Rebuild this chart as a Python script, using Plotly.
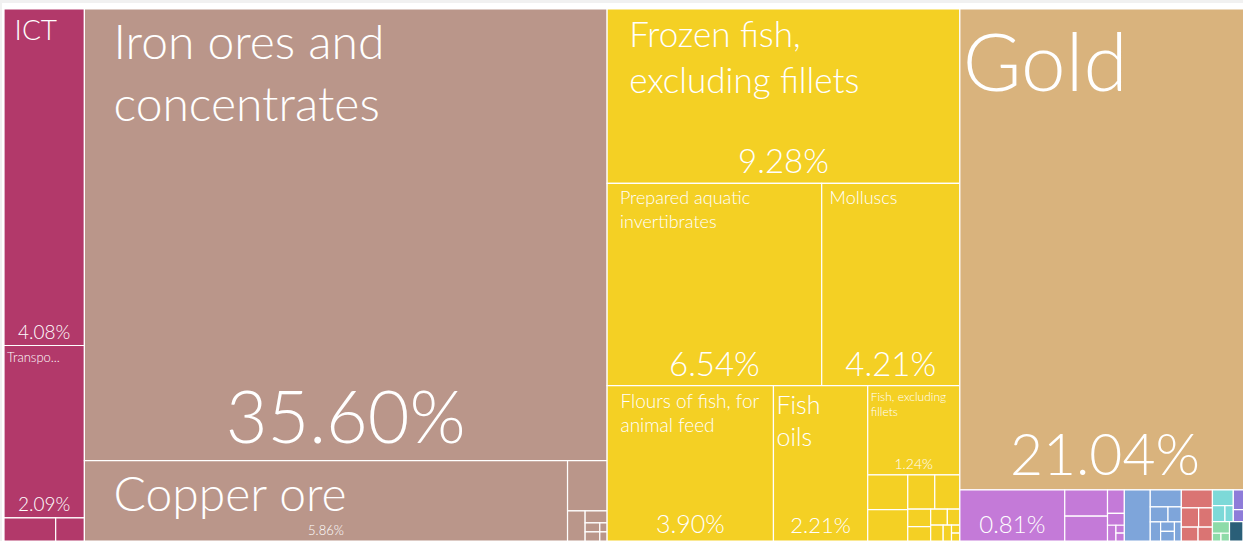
import plotly.graph_objects as go

# ---- data -------------------------------------------------------------
sections = [
    "Services", "Mineral Products", "Animal Products", "Precious Metals",
    "Chemical Products", "Machines", "Plastics and Rubbers", "Vegetable Products",
    "Textiles", "Foodstuffs", "Transportation",
]

products = [
    # Services
    "ICT", "Transport", "Travel", "Other business services",
    # Mineral products
    "Iron ores and concentrates", "Copper ore", "Crude petroleum", "Salt",
    "Gypsum", "Petroleum gas", "Refined petroleum", "Cement", "Sulphur",
    # Animal products
    "Frozen fish, excluding fillets", "Prepared aquatic invertibrates", "Molluscs",
    "Flours of fish, for animal feed", "Fish oils", "Fish, excluding fillets",
    "Crustaceans", "Fish fillets", "Dried fish", "Bovine hides", "Camel meat",
    "Edible offal", "Goat skins", "Milk", "Honey", "Bird eggs", "Sheep wool", "Animal hair",
    # Precious metals
    "Gold",
    # Chemical products
    "Insecticides", "Cosmetics", "Soaps", "Packaged medicaments", "Paints",
    "Glues", "Fertilizers", "Inks",
    # Machines
    "Engine parts", "Pumps", "Cranes", "Valves", "Electric motors", "Generators",
    "Broadcasting equipment", "Computers",
    # Plastics and rubbers
    "Rubber tires", "Plastic lids", "Plastic pipes", "Plastic sheets", "Rubber belts",
    # Vegetable products
    "Dates", "Gum arabic", "Melons",
    # Textiles
    "Used clothing", "Synthetic fabric", "Cotton",
    # Foodstuffs
    "Fish preparations", "Animal food", "Sugar",
    # Transportation
    "Ships", "Cars",
]

product_sections = (
    ["Services"] * 4
    + ["Mineral Products"] * 9
    + ["Animal Products"] * 18
    + ["Precious Metals"]
    + ["Chemical Products"] * 8
    + ["Machines"] * 8
    + ["Plastics and Rubbers"] * 5
    + ["Vegetable Products"] * 3
    + ["Textiles"] * 3
    + ["Foodstuffs"] * 3
    + ["Transportation"] * 2
)

# export share, percent
shares = [
    4.08, 2.09, 0.18, 0.10,
    35.60, 5.86, 0.30, 0.08, 0.04, 0.02, 0.02, 0.01, 0.01,
    9.28, 6.54, 4.21, 3.90, 2.21, 1.24,
    0.21, 0.19, 0.14, 0.13, 0.06, 0.05, 0.04, 0.03, 0.03, 0.02, 0.01, 0.01,
    21.04,
    0.81, 0.17, 0.16, 0.06, 0.03, 0.02, 0.01, 0.01,
    0.20, 0.08, 0.04, 0.03, 0.03, 0.02, 0.02, 0.02,
    0.085, 0.05, 0.04, 0.035, 0.03,
    0.05, 0.03, 0.02,
    0.05, 0.02, 0.01,
    0.03, 0.01, 0.01,
    0.04, 0.02,
]

# ---- styles -----------------------------------------------------------
section_colors = {
    "Services": "#B2396A",
    "Mineral Products": "#BA968A",
    "Animal Products": "#F4D024",
    "Precious Metals": "#D9B37D",
    "Chemical Products": "#C47AD8",
    "Machines": "#7EA5DA",
    "Plastics and Rubbers": "#DA7473",
    "Vegetable Products": "#7DD9D8",
    "Textiles": "#8E7CD9",
    "Foodstuffs": "#8DDBA8",
    "Transportation": "#2A5F78",
}

# product name shown in its tile: (lines, font size, left indent in spaces)
name_style = {
    "ICT": (["ICT"], 28, 1),
    "Transport": (["Transpo..."], 13, 0),
    "Iron ores and concentrates": (["Iron ores and", "concentrates"], 48, 2),
    "Copper ore": (["Copper ore"], 48, 2),
    "Frozen fish, excluding fillets": (["Frozen fish,", "excluding fillets"], 35, 2),
    "Prepared aquatic invertibrates": (["Prepared aquatic", "invertibrates"], 18, 2),
    "Molluscs": (["Molluscs"], 18, 1),
    "Flours of fish, for animal feed": (["Flours of fish, for", "animal feed"], 19, 2),
    "Fish oils": (["Fish", "oils"], 25, 0),
    "Fish, excluding fillets": (["Fish, excluding", "fillets"], 12, 0),
    "Gold": (["Gold"], 80, 0),
}

# share label font size
pct_style = {
    "ICT": 19, "Transport": 19,
    "Iron ores and concentrates": 72, "Copper ore": 13,
    "Frozen fish, excluding fillets": 33, "Prepared aquatic invertibrates": 33,
    "Molluscs": 33, "Flours of fish, for animal feed": 25, "Fish oils": 22,
    "Fish, excluding fillets": 14, "Gold": 57, "Insecticides": 24,
}

FONT = "Lato"
NBSP = "\u00a0"


def name_label(product):
    if product not in name_style:
        return ""
    lines, _, indent = name_style[product]
    return "<br>".join(NBSP * indent + line for line in lines)


# ---- hierarchy --------------------------------------------------------
ids = ["root"] + [f"s/{s}" for s in sections] + [f"p/{p}" for p in products]
labels = ["Exports"] + sections + products
parents = [""] + ["root"] * len(sections) + [f"s/{s}" for s in product_sections]
values = [0] * (1 + len(sections)) + shares
colors = ["#ffffff"] + [section_colors[s] for s in sections] + \
         [section_colors[s] for s in product_sections]

n_branch = 1 + len(sections)
name_text = [""] * n_branch + [name_label(p) for p in products]
name_size = [10] * n_branch + [name_style[p][1] if p in name_style else 10 for p in products]
pct_tmpl = [""] * n_branch + [("%{value:.2f}%" if p in pct_style else "") for p in products]
pct_size = [10] * n_branch + [pct_style.get(p, 10) for p in products]

common = dict(
    ids=ids, labels=labels, parents=parents, values=values,
    branchvalues="remainder", sort=False,
    tiling=dict(packing="squarify", squarifyratio=1, pad=0),
    pathbar=dict(visible=False),
    hoverinfo="skip",
)

tiles = go.Treemap(
    **common,
    marker=dict(colors=colors, line=dict(color="#ffffff", width=1.2),
                pad=dict(t=0, l=0, r=0, b=0), depthfade=False),
    text=name_text, texttemplate="%{text}", textposition="top left",
    textfont=dict(family=FONT, size=name_size, color="#ffffff", weight=300),
)

shares_layer = go.Treemap(
    **common,
    marker=dict(colors=["rgba(0,0,0,0)"] * len(ids), line=dict(width=0),
                pad=dict(t=0, l=0, r=0, b=0), depthfade=False),
    texttemplate=pct_tmpl, textposition="bottom center",
    textfont=dict(family=FONT, size=pct_size, color="#ffffff", weight=300),
)

# the treemap runs a few pixels past the right edge of the window
FIG_W, FIG_H = 1250, 541
M_L, M_T = 4, 9
plot_w, plot_h = FIG_W - M_L, FIG_H - M_T

fig = go.Figure([tiles, shares_layer])
fig.update_layout(
    width=FIG_W, height=FIG_H,
    margin=dict(l=M_L, r=0, t=M_T, b=0),
    paper_bgcolor="#f1f1f1",
    showlegend=False,
    shapes=[dict(type="rect", xref="paper", yref="paper", layer="below",
                 x0=-2 / plot_w, x1=1.01, y0=-0.01, y1=1 + 6 / plot_h,
                 fillcolor="#ffffff", line=dict(width=0))],
)
fig.write_html(
    "out.html",
    post_script="document.documentElement.style.overflow='hidden';"
                "document.body.style.overflow='hidden';",
)
